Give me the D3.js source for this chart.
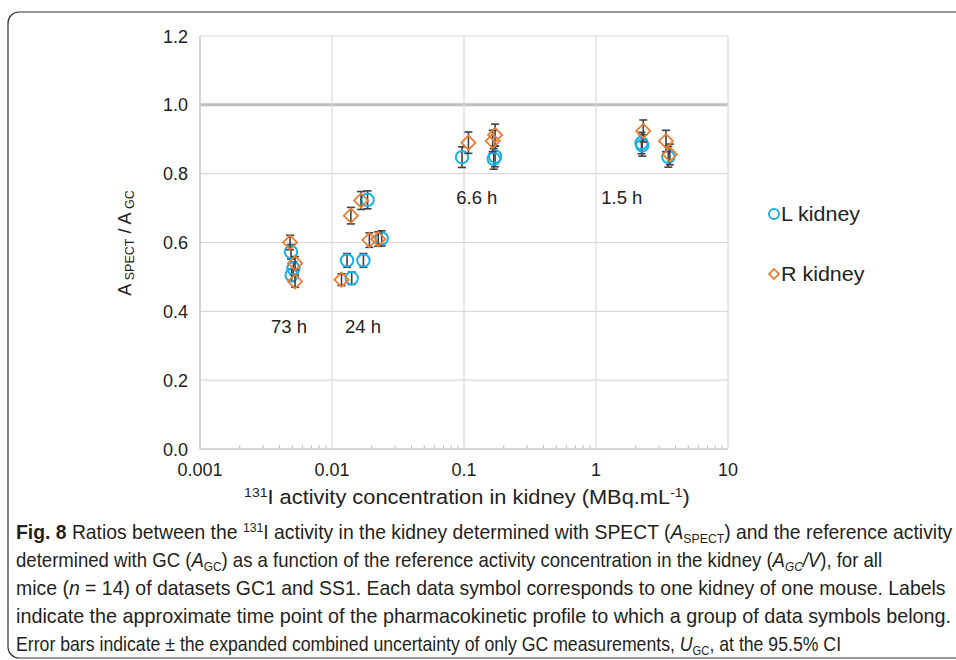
<!DOCTYPE html>
<html>
<head>
<meta charset="utf-8">
<script src="https://cdn.jsdelivr.net/npm/d3@7"></script>
<style>
  body { margin: 0; background: #fff; }
  svg { display: block; font-family: "Liberation Sans", Arial, sans-serif; }
</style>
</head>
<body>
<script>
// L kidney (circles)
const lConc  = [0.00489, 0.00510, 0.00495, 0.0186, 0.0238, 0.0130, 0.0173, 0.0141, 0.0966, 0.168, 0.172, 2.21, 2.24, 3.53];
const lRatio = [0.573, 0.525, 0.505, 0.724, 0.612, 0.548, 0.548, 0.496, 0.848, 0.843, 0.850, 0.889, 0.882, 0.849];
const lErr   = [0.021, 0.019, 0.018, 0.026, 0.022, 0.020, 0.020, 0.018, 0.030, 0.030, 0.030, 0.031, 0.031, 0.030];
// R kidney (diamonds)
const rConc  = [0.00481, 0.00525, 0.00525, 0.0166, 0.0139, 0.0192, 0.0224, 0.0118, 0.108, 0.172, 0.165, 2.28, 3.39, 3.63];
const rRatio = [0.600, 0.540, 0.487, 0.722, 0.678, 0.607, 0.610, 0.492, 0.890, 0.912, 0.895, 0.924, 0.895, 0.856];
const rErr   = [0.021, 0.019, 0.017, 0.026, 0.024, 0.021, 0.021, 0.017, 0.031, 0.032, 0.031, 0.032, 0.031, 0.030];

const groupLabels = ["73 h", "24 h", "6.6 h", "1.5 h"];
const groupX      = [0.00472, 0.0172, 0.125, 1.57];
const groupY      = [0.355, 0.355, 0.732, 0.732];

const yTicks = [0, 0.2, 0.4, 0.6, 0.8, 1.0, 1.2];
const xTicks = [0.001, 0.01, 0.1, 1, 10];
const xTickLabels = ["0.001", "0.01", "0.1", "1", "10"];

const W = 956, H = 660;
const plot = {left: 200, right: 728, top: 36, bottom: 449};

const svg = d3.select("body").append("svg")
    .attr("width", W)
    .attr("height", H);

// frame
svg.append("rect")
    .attr("x", 8).attr("y", 12)
    .attr("width", 970).attr("height", 646)
    .attr("rx", 11)
    .attr("fill", "none")
    .attr("stroke", "#333")
    .attr("stroke-width", 1.2);

let x = d3.scaleLog().domain([0.001, 10]).range([plot.left, plot.right]);
let y = d3.scaleLinear().domain([0, 1.2]).range([plot.bottom, plot.top]);

// gridlines
svg.append("g").selectAll("line")
    .data(yTicks.filter(d => d > 0))
    .join("line")
    .attr("x1", plot.left).attr("x2", plot.right)
    .attr("y1", d => y(d)).attr("y2", d => y(d))
    .attr("stroke", d => d === 1.0 ? "#bfbfbf" : "#d9d9d9")
    .attr("stroke-width", d => d === 1.0 ? 3 : 1.2);

svg.append("g").selectAll("line")
    .data(xTicks)
    .join("line")
    .attr("x1", d => x(d)).attr("x2", d => x(d))
    .attr("y1", plot.top).attr("y2", plot.bottom)
    .attr("stroke", "#d9d9d9")
    .attr("stroke-width", 1.2);

// minor ticks on x axis
let minor = [];
xTicks.slice(0, -1).forEach(function(t) {
    for (let k = 2; k <= 9; k++) minor.push(t * k);
});
svg.append("g").selectAll("line")
    .data(minor)
    .join("line")
    .attr("x1", d => x(d)).attr("x2", d => x(d))
    .attr("y1", plot.bottom).attr("y2", plot.bottom - 4)
    .attr("stroke", "#bfbfbf")
    .attr("stroke-width", 1);

// axis lines
svg.append("line")
    .attr("x1", plot.left).attr("x2", plot.left)
    .attr("y1", plot.top).attr("y2", plot.bottom)
    .attr("stroke", "#c8c8c8").attr("stroke-width", 1.3);
svg.append("line")
    .attr("x1", plot.left).attr("x2", plot.right)
    .attr("y1", plot.bottom).attr("y2", plot.bottom)
    .attr("stroke", "#c8c8c8").attr("stroke-width", 1.3);

// tick labels
svg.append("g").selectAll("text")
    .data(yTicks)
    .join("text")
    .attr("x", 188)
    .attr("y", d => y(d) + 6.5)
    .attr("text-anchor", "end")
    .attr("font-size", 18)
    .attr("fill", "#222")
    .text(d => d.toFixed(1));

svg.append("g").selectAll("text")
    .data(xTicks)
    .join("text")
    .attr("x", d => x(d))
    .attr("y", 476)
    .attr("text-anchor", "middle")
    .attr("font-size", 18)
    .attr("fill", "#222")
    .text((d, i) => xTickLabels[i]);

// axis titles
let yt = svg.append("text")
    .attr("transform", "translate(131,243) rotate(-90)")
    .attr("text-anchor", "middle")
    .attr("font-size", 18)
    .attr("fill", "#222");
yt.append("tspan").text("A");
yt.append("tspan").attr("font-size", 12.5).attr("dy", 3).text(" SPECT");
yt.append("tspan").attr("dy", -3).text(" / A");
yt.append("tspan").attr("font-size", 12.5).attr("dy", 3).text(" GC");

let xt = svg.append("text")
    .attr("transform", "translate(467,504) scale(1.12,1)")
    .attr("text-anchor", "middle")
    .attr("font-size", 19.5)
    .attr("fill", "#222");
xt.append("tspan").attr("font-size", 12.5).attr("dy", -7).text("131");
xt.append("tspan").attr("dy", 7).text("I activity concentration in kidney (MBq.mL");
xt.append("tspan").attr("font-size", 12.5).attr("dy", -7).text("-1");
xt.append("tspan").attr("dy", 7).text(")");

// group labels
svg.append("g").selectAll("text")
    .data(groupLabels)
    .join("text")
    .attr("x", (d, i) => x(groupX[i]))
    .attr("y", (d, i) => y(groupY[i]) + 6.5)
    .attr("text-anchor", "middle")
    .attr("font-size", 18.5)
    .attr("fill", "#222")
    .text(d => d);

const errColor = "#404040";
const blue = "#1ab0ea", orange = "#ed7d31";

function drawSeries(conc, ratio, err, kind) {
    let pts = conc.map((c, i) => ({c: c, v: ratio[i], e: err[i]}));
    let g = svg.append("g");
    let eb = g.append("g").selectAll("g")
        .data(pts)
        .join("g")
        .attr("stroke", errColor)
        .attr("stroke-width", 1.6);
    eb.append("line")
        .attr("x1", d => x(d.c)).attr("x2", d => x(d.c))
        .attr("y1", d => y(d.v + d.e)).attr("y2", d => y(d.v - d.e));
    eb.append("line")
        .attr("x1", d => x(d.c) - 4).attr("x2", d => x(d.c) + 4)
        .attr("y1", d => y(d.v + d.e)).attr("y2", d => y(d.v + d.e));
    eb.append("line")
        .attr("x1", d => x(d.c) - 4).attr("x2", d => x(d.c) + 4)
        .attr("y1", d => y(d.v - d.e)).attr("y2", d => y(d.v - d.e));
    if (kind === "circle") {
        g.append("g").selectAll("circle")
            .data(pts)
            .join("circle")
            .attr("cx", d => x(d.c)).attr("cy", d => y(d.v))
            .attr("r", 6.2)
            .attr("fill", "none")
            .attr("stroke", blue)
            .attr("stroke-width", 2);
    } else {
        g.append("g").selectAll("path")
            .data(pts)
            .join("path")
            .attr("d", d3.symbol(d3.symbolSquare, 100))
            .attr("transform", d => "translate(" + x(d.c) + "," + y(d.v) + ") rotate(45)")
            .attr("fill", "none")
            .attr("stroke", orange)
            .attr("stroke-width", 1.8);
    }
}
drawSeries(lConc, lRatio, lErr, "circle");
drawSeries(rConc, rRatio, rErr, "diamond");

// legend
svg.append("circle")
    .attr("cx", 774).attr("cy", 214).attr("r", 5)
    .attr("fill", "none").attr("stroke", blue).attr("stroke-width", 2);
svg.append("text")
    .attr("transform", "translate(781,221) scale(1.1,1)")
    .attr("font-size", 19.5).attr("fill", "#222")
    .text("L kidney");
svg.append("path")
    .attr("d", d3.symbol(d3.symbolSquare, 50))
    .attr("transform", "translate(774,274) rotate(45)")
    .attr("fill", "none").attr("stroke", orange).attr("stroke-width", 1.8);
svg.append("text")
    .attr("transform", "translate(781,281) scale(1.1,1)")
    .attr("font-size", 19.5).attr("fill", "#222")
    .text("R kidney");

// caption
const capLines = [
    [["b", "Fig. 8"], ["", "  Ratios between the "], ["sup", "131"], ["", "I activity in the kidney determined with SPECT ("], ["i", "A"], ["sub", "SPECT"], ["", ") and the reference activity"]],
    [["", "determined with GC ("], ["i", "A"], ["sub", "GC"], ["", ") as a function of the reference activity concentration in the kidney ("], ["i", "A"], ["isub", "GC"], ["i", "/V"], ["", "), for all"]],
    [["", "mice ("], ["i", "n"], ["", " = 14) of datasets GC1 and SS1. Each data symbol corresponds to one kidney of one mouse. Labels"]],
    [["", "indicate the approximate time point of the pharmacokinetic profile to which a group of data symbols belong."]],
    [["", "Error bars indicate \u00b1 the expanded combined uncertainty of only GC measurements, "], ["i", "U"], ["sub", "GC"], ["", ", at the 95.5% CI"]]
];
const capBase  = [539, 567, 595, 623, 651];
const capRight = [953, 883, 946, 952, 842];

capLines.forEach(function(parts, li) {
    let t = svg.append("text")
        .attr("x", 0).attr("y", 0)
        .attr("font-size", 20.5)
        .attr("fill", "#231f20");
    let shift = 0;
    parts.forEach(function(p) {
        let kind = p[0], s = p[1];
        let sp = t.append("tspan").text(s);
        let want = 0;
        if (kind === "sup") { want = -7; sp.attr("font-size", 13); }
        if (kind === "sub" || kind === "isub") { want = 4; sp.attr("font-size", 13); }
        if (kind === "b") sp.attr("font-weight", "bold");
        if (kind === "i" || kind === "isub") sp.attr("font-style", "italic");
        if (want !== shift) { sp.attr("dy", want - shift); shift = want; }
    });
    let w = t.node().getComputedTextLength();
    let sx = (capRight[li] - 16) / w;
    t.attr("transform", "translate(16," + capBase[li] + ") scale(" + sx + ",1)");
});
</script>
</body>
</html>
